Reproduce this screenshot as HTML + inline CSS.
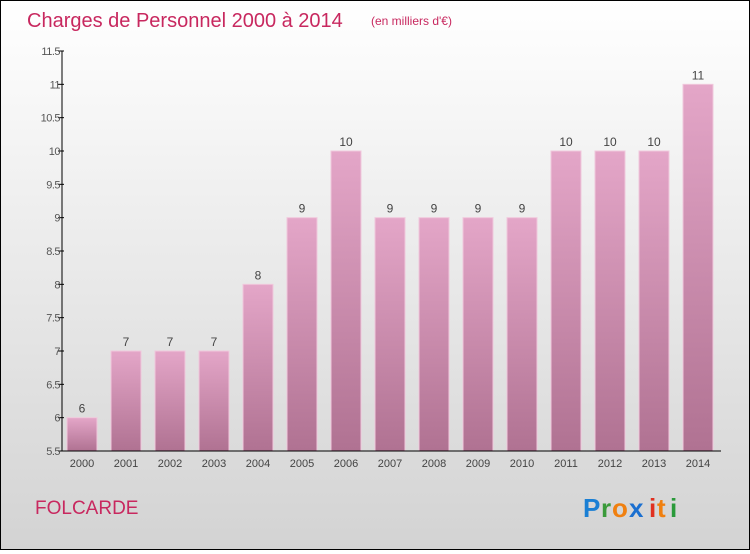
<!DOCTYPE html>
<html><head><meta charset="utf-8"><style>
body{margin:0;width:750px;height:550px;overflow:hidden}
#c{position:relative;width:748px;height:548px;border:1px solid #000;background:linear-gradient(#ffffff,#d3d3d3)}
svg text{font-family:"Liberation Sans",sans-serif}
</style></head><body>
<div id="c">
<svg id="s" width="748" height="548">
<defs><linearGradient id="bg" x1="0" y1="0" x2="0" y2="1"><stop offset="0" stop-color="#e4a6c8"/><stop offset="1" stop-color="#b07292"/></linearGradient></defs>
<text x="26" y="26" font-size="20" fill="#c8285f">Charges de Personnel 2000 à 2014</text>
<text x="370" y="24" font-size="12" fill="#c8285f">(en milliers d'€)</text>
<text x="34" y="513" font-size="19" fill="#c8285f">FOLCARDE</text>
<g font-size="26" font-weight="bold">
<text x="582" y="516" fill="#1a7fd4">P</text><text x="600" y="516" fill="#3a9a3a">r</text><text x="611" y="516" fill="#f08010">o</text><text x="628" y="516" fill="#1a6fd0">x</text><text x="648" y="516" fill="#e03020">i</text><text x="656" y="516" fill="#f08010">t</text><text x="669" y="516" fill="#2a9a3a">i</text>
</g>
<g id="plot"></g>
</svg></div>
<script>
const categories=["2000","2001","2002","2003","2004","2005","2006","2007","2008","2009","2010","2011","2012","2013","2014"];
const values=[6,7,7,7,8,9,10,9,9,9,9,10,10,10,11];
const ticks=[5.5,6,6.5,7,7.5,8,8.5,9,9.5,10,10.5,11,11.5];
const tickLabels=["5.5","6","6.5","7","7.5","8","8.5","9","9.5","10","10.5","11","11.5"];
const y=v=>450-(v-5.5)*(400/6);
const x=i=>81+i*44;
const g=document.getElementById('plot');
const NS="http://www.w3.org/2000/svg";
function mk(t,a){const e=document.createElementNS(NS,t);for(const k in a)e.setAttribute(k,a[k]);g.appendChild(e);return e;}
values.forEach((v,i)=>{
 const r=mk('rect',{x:x(i)-15,y:y(v),width:30,height:450-y(v),fill:'url(#bg)',stroke:'#f0c8dc','stroke-width':1});
 
 
 const t=mk('text',{x:x(i),y:y(v)-5,'text-anchor':'middle','font-size':12,fill:'#444'});t.textContent=v;
 
 
 const c=mk('text',{x:x(i),y:466,'text-anchor':'middle','font-size':11,fill:'#444'});c.textContent=categories[i];
 
 
});
ticks.forEach((v,i)=>{
 const l=mk('line',{x1:57,x2:63,y1:y(v),y2:y(v),stroke:'#000'});
 
 
 const t=mk('text',{x:59,y:y(v)+4,'text-anchor':'end','font-size':11,fill:'#555','letter-spacing':'-0.5'});t.textContent=tickLabels[i];
 
 
});
const ya=mk('line',{x1:61,x2:61,y1:50,y2:450,stroke:'#000'});


const xa=mk('line',{x1:61,x2:720,y1:450,y2:450,stroke:'#000'});


</script>
</body></html>
